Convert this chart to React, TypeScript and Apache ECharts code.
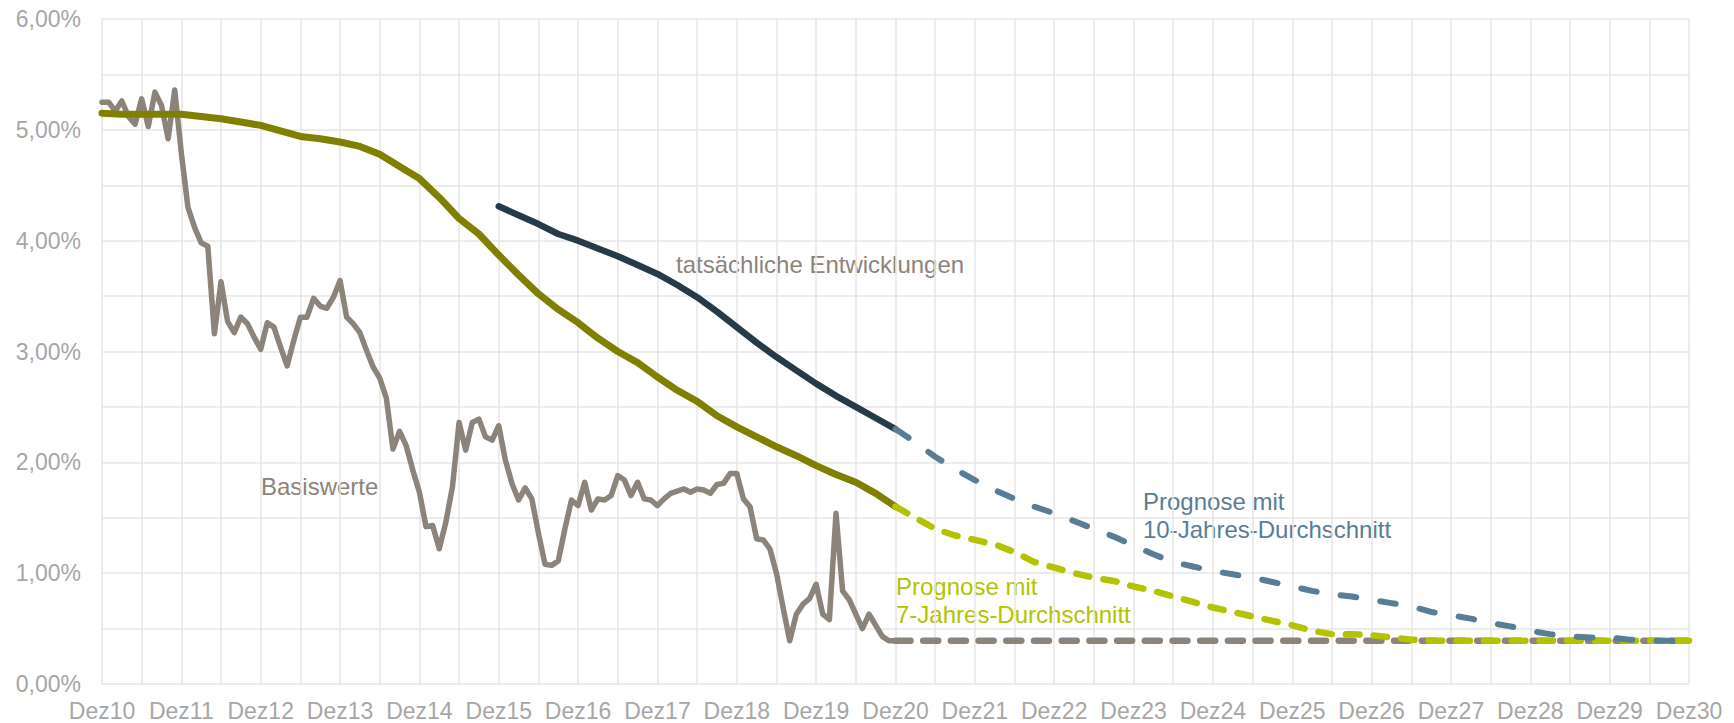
import React, { useEffect, useRef } from "react";
import * as echarts from "echarts";

// x axis: months counted from Dez10 (0) to Dez30 (240)
const xTickLabels = [
  "Dez10", "Dez11", "Dez12", "Dez13", "Dez14", "Dez15", "Dez16", "Dez17", "Dez18", "Dez19", "Dez20",
  "Dez21", "Dez22", "Dez23", "Dez24", "Dez25", "Dez26", "Dez27", "Dez28", "Dez29", "Dez30",
];

// Basiswerte, monthly Dez10 .. Dez20 (%)
const basisValues = [
  5.25, 5.25, 5.17, 5.26, 5.12, 5.05, 5.28, 5.03, 5.34, 5.22, 4.92, 5.36,
  4.79, 4.30, 4.12, 3.98, 3.95, 3.16, 3.63, 3.27, 3.17, 3.31, 3.25, 3.13,
  3.02, 3.26, 3.22, 3.04, 2.87, 3.10, 3.31, 3.31, 3.48, 3.41, 3.39, 3.49,
  3.64, 3.31, 3.25, 3.17, 3.01, 2.86, 2.76, 2.58, 2.12, 2.28, 2.15, 1.93,
  1.73, 1.42, 1.43, 1.22, 1.46, 1.78, 2.36, 2.11, 2.36, 2.39, 2.23, 2.20,
  2.33, 2.02, 1.81, 1.66, 1.77, 1.67, 1.36, 1.08, 1.07, 1.11, 1.40, 1.66,
  1.61, 1.82, 1.57, 1.67, 1.66, 1.70, 1.88, 1.84, 1.70, 1.82, 1.67, 1.66,
  1.61, 1.67, 1.72, 1.74, 1.76, 1.73, 1.76, 1.75, 1.72, 1.80, 1.81, 1.90,
  1.90, 1.67, 1.60, 1.31, 1.30, 1.22, 1.00, 0.69, 0.39, 0.63, 0.72, 0.77,
  0.90, 0.63, 0.58, 1.54, 0.84, 0.76, 0.63, 0.50, 0.63, 0.53, 0.43, 0.39,
  0.39,
];

// Basiswerte forecast (flat), months Dez20 and Dez30
const basisForecastMonths = [120, 240];
const basisForecastValues = [0.39, 0.39];

// 7-Jahres-Durchschnitt (actual), quarterly Dez10 .. Dez20
const avg7Values = [
  5.15, 5.14, 5.14, 5.14, 5.14, 5.12, 5.10, 5.07, 5.04, 4.99, 4.94, 4.92,
  4.89, 4.85, 4.78, 4.67, 4.56, 4.39, 4.20, 4.06, 3.87, 3.69, 3.52, 3.38,
  3.26, 3.12, 3.00, 2.90, 2.77, 2.65, 2.55, 2.42, 2.32, 2.23, 2.14, 2.06,
  1.97, 1.89, 1.82, 1.72, 1.60,
];

// 10-Jahres-Durchschnitt (actual), quarterly Dez15 .. Dez20
const avg10Values = [
  4.31, 4.23, 4.15, 4.06, 4.00, 3.93, 3.86, 3.78, 3.70, 3.60, 3.49, 3.36,
  3.22, 3.08, 2.95, 2.83, 2.71, 2.60, 2.50, 2.40, 2.30,
];

// Prognose mit 10-Jahres-Durchschnitt, quarterly Dez20 .. Dez30
const avg10ForecastValues = [
  2.30, 2.18, 2.05, 1.94, 1.84, 1.75, 1.67, 1.60, 1.54, 1.47, 1.40, 1.33,
  1.25, 1.17, 1.10, 1.06, 1.02, 0.99, 0.96, 0.92, 0.88, 0.84, 0.81, 0.79,
  0.76, 0.73, 0.70, 0.65, 0.62, 0.59, 0.55, 0.52, 0.48, 0.45, 0.43, 0.42,
  0.42, 0.40, 0.39, 0.39, 0.39,
];

// Prognose mit 7-Jahres-Durchschnitt, quarterly Dez20 .. Dez30
const avg7ForecastValues = [
  1.60, 1.50, 1.40, 1.34, 1.30, 1.26, 1.19, 1.10, 1.05, 1.00, 0.96, 0.93,
  0.88, 0.84, 0.79, 0.74, 0.69, 0.65, 0.61, 0.57, 0.53, 0.48, 0.45, 0.45,
  0.44, 0.42, 0.40, 0.39, 0.39, 0.39, 0.39, 0.39, 0.39, 0.39, 0.39, 0.39,
  0.39, 0.39, 0.39, 0.39, 0.39,
];

const pairs = (start: number, step: number, vals: number[]) =>
  vals.map((v, i) => [start + i * step, v]);

const FONT = "'Liberation Sans', Arial, Helvetica, sans-serif";
const C_GRAY = "#8c837a";
const C_OLIVE = "#808000";
const C_NAVY = "#263a48";
const C_BLUE = "#587d94";
const C_YELLOW = "#b3c300";

export default function App() {
  const ref = useRef<HTMLDivElement>(null);

  useEffect(() => {
    document.body.style.margin = "0";
    const chart = echarts.init(ref.current!, undefined, { renderer: "svg" });

    const lineBase = {
      type: "line",
      showSymbol: false,
      symbol: "none",
      silent: true,
      smooth: false,
    };

    chart.setOption({
      animation: false,
      backgroundColor: "#ffffff",
      grid: { left: 102, right: 45, top: 19, bottom: 39 },
      xAxis: {
        type: "value",
        min: 0,
        max: 240,
        interval: 6,
        axisLine: { show: false },
        axisTick: { show: false },
        splitLine: { show: true, lineStyle: { color: "#e6e6e6", width: 1.5 } },
        axisLabel: {
          color: "#a6a6a6",
          fontSize: 23,
          fontFamily: FONT,
          margin: 15,
          showMinLabel: true,
          showMaxLabel: true,
          formatter: (v: number) => (v % 12 === 0 ? xTickLabels[v / 12] : ""),
        },
      },
      yAxis: {
        type: "value",
        min: 0,
        max: 6,
        interval: 0.5,
        axisLine: { show: false },
        axisTick: { show: false },
        splitLine: { show: true, lineStyle: { color: "#e6e6e6", width: 1.5 } },
        axisLabel: {
          color: "#a6a6a6",
          fontSize: 23,
          fontFamily: FONT,
          margin: 21,
          formatter: (v: number) =>
            Math.abs(v - Math.round(v)) < 1e-9 ? v.toFixed(2).replace(".", ",") + "%" : "",
        },
      },
      series: [
        {
          ...lineBase,
          name: "Basiswerte Prognose",
          data: basisForecastMonths.map((m, i) => [m, basisForecastValues[i]]),
          lineStyle: { color: C_GRAY, width: 6.5, type: [15, 12.7], cap: "round", join: "round" },
          z: 1,
        },
        {
          ...lineBase,
          name: "Basiswerte",
          data: pairs(0, 1, basisValues),
          lineStyle: { color: C_GRAY, width: 5.5, cap: "round", join: "round" },
          z: 2,
        },
        {
          ...lineBase,
          name: "7-Jahres-Durchschnitt",
          data: pairs(0, 3, avg7Values),
          lineStyle: { color: C_OLIVE, width: 7, cap: "round", join: "round" },
          z: 3,
        },
        {
          ...lineBase,
          name: "10-Jahres-Durchschnitt",
          data: pairs(60, 3, avg10Values),
          lineStyle: { color: C_NAVY, width: 6.5, cap: "round", join: "round" },
          z: 3,
        },
        {
          ...lineBase,
          name: "Prognose 7-Jahres-Durchschnitt",
          data: pairs(120, 3, avg7ForecastValues),
          lineStyle: { color: C_YELLOW, width: 6.5, type: [13.5, 14.2], cap: "round", join: "round" },
          z: 4,
        },
        {
          ...lineBase,
          name: "Prognose 10-Jahres-Durchschnitt",
          data: pairs(120, 3, avg10ForecastValues),
          lineStyle: { color: C_BLUE, width: 6, type: [15.7, 24.3], cap: "round", join: "round" },
          z: 5,
        },
      ],
      graphic: [
        {
          type: "text",
          x: 261,
          y: 486,
          silent: true,
          style: { text: "Basiswerte", fill: C_GRAY, fontSize: 24, fontFamily: FONT, verticalAlign: "middle" },
        },
        {
          type: "text",
          x: 676,
          y: 264,
          silent: true,
          style: {
            text: "tatsächliche Entwicklungen",
            fill: C_GRAY,
            fontSize: 24,
            fontFamily: FONT,
            verticalAlign: "middle",
          },
        },
        {
          type: "text",
          x: 1143,
          y: 515,
          silent: true,
          style: {
            text: "Prognose mit\n10-Jahres-Durchschnitt",
            fill: C_BLUE,
            fontSize: 24,
            lineHeight: 28,
            fontFamily: FONT,
            verticalAlign: "middle",
          },
        },
        {
          type: "text",
          x: 896,
          y: 600,
          silent: true,
          style: {
            text: "Prognose mit\n7-Jahres-Durchschnitt",
            fill: C_YELLOW,
            fontSize: 24,
            lineHeight: 28,
            fontFamily: FONT,
            verticalAlign: "middle",
          },
        },
      ],
    });

    return () => chart.dispose();
  }, []);

  return <div ref={ref} style={{ width: 1734, height: 723 }} />;
}
